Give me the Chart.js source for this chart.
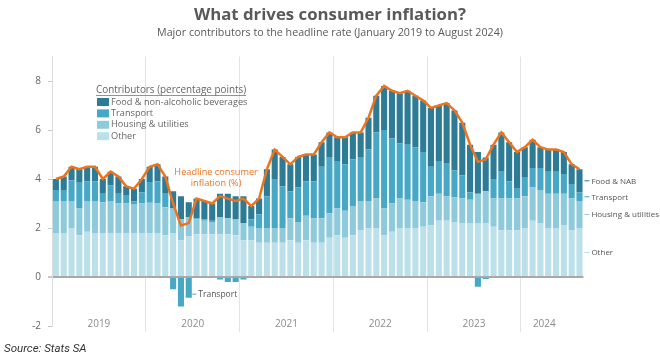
<!DOCTYPE html>
<html>
<head>
<meta charset="utf-8">
<title>What drives consumer inflation?</title>
<script src="https://cdn.jsdelivr.net/npm/chart.js@4.4.1/dist/chart.umd.min.js"></script>
<style>
  html, body { margin: 0; padding: 0; background: #fff; }
  #wrap { position: relative; width: 660px; height: 361px; }
  #title { position: absolute; left: 0; width: 660px; top: 2px; text-align: center;
           font: bold 16.8px "Open Sans", sans-serif; color: #595959; }
  #subtitle { position: absolute; left: 0; width: 660px; top: 25px; text-align: center;
              font: 10.7px "Open Sans", sans-serif; color: #595959; }
  #source { position: absolute; left: 4px; top: 341px; font: italic 11.5px Roboto, sans-serif; color: #333; }
</style>
</head>
<body>
<div id="wrap">
  <canvas id="chart" width="660" height="361"></canvas>
  <div id="title">What drives consumer inflation?</div>
  <div id="subtitle">Major contributors to the headline rate (January 2019 to August 2024)</div>
  <div id="source">Source: Stats SA</div>
</div>
<script>
    // Monthly data, January 2019 to August 2024
    const years = ['2019', '2020', '2021', '2022', '2023', '2024'];
    const monthNames = ['Jan', 'Feb', 'Mar', 'Apr', 'May', 'Jun', 'Jul', 'Aug', 'Sep', 'Oct', 'Nov', 'Dec'];
    const yearTickIndex = [6, 18, 30, 42, 54, 63];

    const headline = [
        4.0, 4.1, 4.5, 4.4, 4.5, 4.5, 4.0, 4.3, 4.1, 3.7, 3.6, 4.0,
        4.5, 4.6, 4.1, 3.0, 2.1, 2.2, 3.2, 3.1, 3.0, 3.3, 3.2, 3.1,
        3.2, 2.9, 3.2, 4.4, 5.2, 4.9, 4.6, 4.9, 5.0, 5.0, 5.5, 5.9,
        5.7, 5.7, 5.9, 5.9, 6.5, 7.4, 7.8, 7.6, 7.5, 7.6, 7.4, 7.2,
        6.9, 7.0, 7.1, 6.8, 6.3, 5.4, 4.7, 4.8, 5.4, 5.9, 5.5, 5.1,
        5.3, 5.6, 5.3, 5.2, 5.2, 5.1, 4.6, 4.4
    ];
    const food = [
        0.45, 0.55, 0.55, 0.55, 0.6, 0.6, 0.6, 0.55, 0.7, 0.35, 0.52, 0.55,
        0.62, 0.7, 0.7, 0.7, 0.95, 0.6, 0.8, 0.75, 0.7, 0.95, 1.0, 0.95,
        1.1, 0.55, 0.65, 1.1, 1.2, 1.2, 1.1, 1.25, 1.1, 1.1, 1.0, 1.0,
        1.0, 1.1, 1.1, 1.0, 1.3, 1.5, 1.8, 1.95, 2.05, 2.2, 2.1, 2.1,
        2.4, 2.3, 2.45, 2.45, 2.15, 1.95, 1.7, 1.38, 1.4, 1.6, 1.6, 1.5,
        1.25, 1.15, 0.85, 0.9, 0.9, 0.9, 0.8, 0.95
    ];
    const transport = [
        0.45, 0.45, 0.85, 1.05, 0.8, 0.8, 0.35, 0.65, 0.4, 0.35, 0.1, 0.45,
        0.85, 0.9, 0.55, -0.5, -1.2, -0.85, 0.05, 0.05, 0.05, -0.1, -0.2, -0.2,
        -0.1, 0.3, 0.55, 1.3, 2.0, 1.7, 1.1, 1.4, 1.4, 1.5, 2.1, 2.3,
        1.9, 1.9, 1.9, 1.8, 2.1, 2.7, 3.2, 2.65, 2.25, 2.25, 2.2, 2.05,
        1.2, 1.3, 1.35, 1.1, 0.95, 0.3, -0.4, -0.08, 0.8, 1.1, 0.7, 0.4,
        0.75, 0.8, 0.9, 0.9, 0.9, 0.8, 0.6, 0.35
    ];
    const housing = [
        1.3, 1.3, 1.1, 1.1, 1.25, 1.3, 1.25, 1.3, 1.2, 1.22, 1.2, 1.22,
        1.25, 1.2, 1.15, 1.0, 0.85, 0.8, 0.6, 0.55, 0.5, 0.7, 0.65, 0.65,
        0.7, 0.55, 0.6, 0.6, 0.6, 0.6, 0.9, 0.85, 1.0, 1.0, 1.0, 1.0,
        1.1, 1.1, 1.2, 1.2, 1.1, 1.2, 1.1, 1.15, 1.2, 1.15, 1.1, 1.0,
        1.2, 1.1, 1.0, 1.0, 1.0, 0.95, 1.2, 1.3, 1.15, 1.3, 1.3, 1.3,
        1.3, 1.35, 1.35, 1.4, 1.4, 1.3, 1.3, 1.1
    ];
    const other = [
        1.8, 1.8, 2.0, 1.7, 1.85, 1.8, 1.8, 1.8, 1.8, 1.78, 1.78, 1.78,
        1.78, 1.8, 1.7, 1.8, 1.5, 1.65, 1.75, 1.75, 1.75, 1.75, 1.75, 1.7,
        1.5, 1.5, 1.4, 1.4, 1.4, 1.4, 1.5, 1.4, 1.5, 1.4, 1.4, 1.6,
        1.7, 1.6, 1.7, 1.9, 2.0, 2.0, 1.7, 1.85, 2.0, 2.0, 2.0, 2.05,
        2.1, 2.3, 2.3, 2.25, 2.2, 2.2, 2.2, 2.2, 2.05, 1.9, 1.9, 1.9,
        2.0, 2.3, 2.2, 2.0, 2.0, 2.1, 1.9, 2.0
    ];

    const seriesNames = ['Food & non-alcoholic beverages', 'Transport', 'Housing & utilities', 'Other'];
    const endLabels = ['Food & NAB', 'Transport', 'Housing & utilities', 'Other'];
    const colors = ['#2d7b95', '#46a8c4', '#8fcadb', '#bbe0ea'];
    const lineColor = '#ea7420';

    const months = [];
    years.forEach(year => {
        monthNames.forEach(m => {
            if (months.length < headline.length) months.push(m + ' ' + year);
        });
    });

    const font = '"Open Sans", sans-serif';
    const clear = 'rgba(0,0,0,0)';

    // Legend, notes and end labels drawn on top of the bars
    const notesPlugin = {
        id: 'notes',
        afterDatasetsDraw(chart) {
            const ctx = chart.ctx;
            const x = chart.scales.x;
            const y = chart.scales.y;
            ctx.save();
            ctx.textBaseline = 'middle';

            // legend box
            ctx.font = '9.9px ' + font;
            ctx.fillStyle = '#666';
            ctx.textAlign = 'left';
            const title = 'Contributors (percentage points)';
            ctx.fillText(title, 96, 90);
            const w = ctx.measureText(title).width;
            ctx.strokeStyle = '#777';
            ctx.lineWidth = 0.8;
            ctx.beginPath();
            ctx.moveTo(96, 95.5);
            ctx.lineTo(96 + w, 95.5);
            ctx.stroke();
            ctx.font = '9.2px ' + font;
            seriesNames.forEach((name, i) => {
                const cy = 102 + i * 11.4;
                ctx.fillStyle = colors[i];
                ctx.fillRect(97, cy - 4, 12, 8);
                ctx.fillStyle = '#666';
                ctx.fillText(name, 111, cy);
            });

            // headline label
            ctx.font = '9.2px ' + font;
            ctx.fillStyle = lineColor;
            ctx.textAlign = 'center';
            const hx = x.getPixelForValue(20.5);
            ctx.fillText('Headline consumer', hx, y.getPixelForValue(4.28));
            ctx.fillText('inflation (%)', hx, y.getPixelForValue(3.83));

            // transport note under the 2020 dip
            ctx.font = '8.5px ' + font;
            ctx.fillStyle = '#555';
            ctx.textAlign = 'left';
            const tx = x.getPixelForValue(17) + 3.5;
            const ty = y.getPixelForValue(-0.7);
            ctx.strokeStyle = colors[1];
            ctx.lineWidth = 1;
            ctx.beginPath();
            ctx.moveTo(tx, ty);
            ctx.lineTo(tx + 4, ty);
            ctx.stroke();
            ctx.fillText('Transport', tx + 6, ty + 0.5);

            // end labels at the last bar
            const last = headline.length - 1;
            const o = other[last], h = housing[last], t = transport[last], f = food[last];
            const mids = [o + h + t + f / 2, o + h + t / 2, o + h / 2, o / 2];
            const ex = chart.chartArea.right;
            ctx.font = '8px ' + font;
            mids.forEach((v, i) => {
                const py = y.getPixelForValue(v);
                ctx.strokeStyle = colors[i];
                ctx.beginPath();
                ctx.moveTo(ex + 1, py);
                ctx.lineTo(ex + 6, py);
                ctx.stroke();
                ctx.fillStyle = '#555';
                ctx.fillText(endLabels[i], ex + 8, py + 0.5);
            });
            ctx.restore();
        }
    };

    const barSet = (label, data, color) => ({
        type: 'bar',
        label: label,
        data: data,
        backgroundColor: color,
        borderWidth: 0,
        barPercentage: 0.78,
        categoryPercentage: 1.0,
        stack: 'contrib',
        order: 1
    });

    const config = {
        data: {
            labels: months,
            datasets: [
                {
                    type: 'line',
                    label: 'Headline consumer inflation (%)',
                    data: headline,
                    borderColor: lineColor,
                    borderWidth: 2.5,
                    pointRadius: 0,
                    tension: 0,
                    stack: 'headline',
                    order: 0
                },
                barSet('Other', other, colors[3]),
                barSet('Housing & utilities', housing, colors[2]),
                barSet('Transport', transport, colors[1]),
                barSet('Food & non-alcoholic beverages', food, colors[0])
            ]
        },
        options: {
            responsive: false,
            animation: false,
            layout: {
                padding: { top: 56.5, bottom: 35, left: 0, right: 76.6 }
            },
            scales: {
                x: {
                    stacked: true,
                    offset: true,
                    border: { display: false },
                    grid: {
                        offset: true,
                        drawTicks: true,
                        tickLength: 6,
                        color: c => (c.index > 0 && c.index % 12 === 0) ? '#e3e3e3' : clear,
                        tickColor: c => (c.index > 0 && c.index % 12 === 0) ? '#e3e3e3' : clear
                    },
                    ticks: {
                        autoSkip: false,
                        maxRotation: 0,
                        mirror: true,  // stops the labels being clipped to the (zero height) axis box
                        padding: -4,
                        labelOffset: -3.9,
                        color: '#8c8c8c',
                        font: { family: font, size: 10 },
                        callback: (val, i) => {
                            const k = yearTickIndex.indexOf(i);
                            return k >= 0 ? years[k] : '';
                        }
                    },
                    afterFit: scale => { scale.height = 0; }
                },
                y: {
                    stacked: true,
                    min: -2,
                    max: 9,
                    border: { display: true, color: '#dcdcdc' },
                    grid: {
                        drawTicks: true,
                        tickLength: 4,
                        color: c => c.tick && c.tick.value === 0 ? '#a8a8a8' : clear,
                        lineWidth: c => c.tick && c.tick.value === 0 ? 2 : 1,
                        tickColor: c => c.tick && c.tick.value % 2 === 0 ? '#c8c8c8' : clear
                    },
                    ticks: {
                        stepSize: 2,
                        padding: 7,
                        color: '#666',
                        font: { family: font, size: 10 },
                        callback: v => v % 2 === 0 ? v : ''
                    },
                    afterFit: scale => { scale.width = 52; }
                }
            },
            plugins: {
                legend: { display: false },
                tooltip: { enabled: false }
            }
        },
        plugins: [notesPlugin]
    };

    new Chart(document.getElementById('chart').getContext('2d'), config);
</script>
</body>
</html>
